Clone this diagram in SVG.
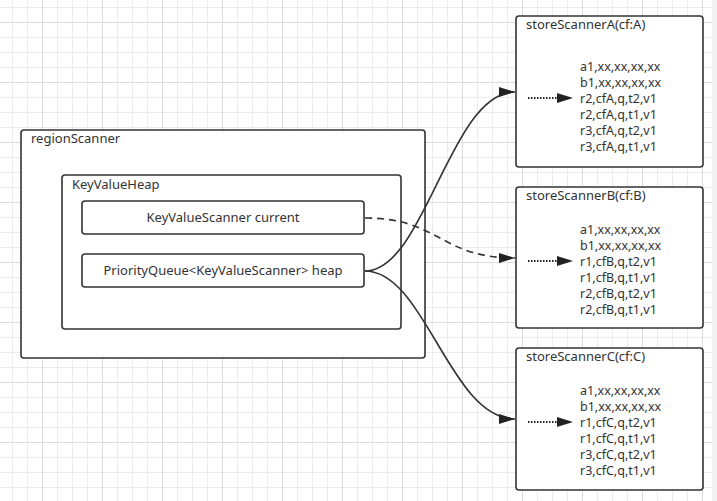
<svg xmlns="http://www.w3.org/2000/svg" width="717" height="501" viewBox="0 0 717 501">
<style>
.box{fill:#fff;stroke:#333;stroke-width:1.6}
.t{font-family:"Noto Sans","Liberation Sans",sans-serif;font-size:13px;fill:#333}
.s{font-size:12.5px}
.c{text-anchor:middle}
.con{fill:none;stroke:#333;stroke-width:1.6}
.dash{stroke-dasharray:7 5}
.dot{fill:none;stroke:#222;stroke-width:2;stroke-dasharray:1.5 1.5}
</style>
<defs>
<pattern id="minor" patternUnits="userSpaceOnUse" x="12" y="7" width="15" height="15">
<rect x="0" y="0" width="1" height="15" fill="#ececec"/>
<rect x="0" y="0" width="15" height="1" fill="#ececec"/>
</pattern>
<pattern id="major" patternUnits="userSpaceOnUse" x="42" y="22" width="60" height="60">
<rect x="0" y="0" width="1" height="60" fill="#dcdcdc"/>
<rect x="0" y="0" width="60" height="1" fill="#dcdcdc"/>
</pattern>
<marker id="arr" viewBox="0 0 16 10" refX="16" refY="5" markerWidth="16" markerHeight="10" markerUnits="userSpaceOnUse" orient="auto">
<path d="M0,0 L16,5 L0,10 Z" fill="#222"/>
</marker>
</defs>
<rect width="717" height="501" fill="#fff"/>
<rect width="717" height="501" fill="url(#minor)"/>
<rect width="717" height="501" fill="url(#major)"/>
<rect x="712" y="0" width="5" height="501" fill="#f2f2f2"/>

<g id="regionScanner">
<rect class="box" x="21" y="130" width="404" height="228" rx="3"/>
<text class="t" x="31" y="143">regionScanner</text>
</g>
<g id="KeyValueHeap">
<rect class="box" x="62" y="175" width="339" height="154" rx="3"/>
<text class="t" x="72" y="189">KeyValueHeap</text>
</g>
<g id="current">
<rect class="box" x="82" y="201" width="282" height="33" rx="3"/>
<text class="t c" x="223" y="222">KeyValueScanner current</text>
</g>
<g id="heap">
<rect class="box" x="82" y="254" width="282" height="33" rx="3"/>
<text class="t c" x="223" y="275">PriorityQueue&lt;KeyValueScanner&gt; heap</text>
</g>

<g id="storeScannerA">
<rect class="box" x="516" y="16" width="187" height="151" rx="3"/>
<text class="t" x="526" y="29">storeScannerA(cf:A)</text>
<line class="dot" x1="528" y1="98" x2="560" y2="98"/>
<path d="M557,93 L573,98 L557,103 Z" fill="#222"/>
<text class="t s" x="580" y="71">a1,xx,xx,xx,xx</text>
<text class="t s" x="580" y="87">b1,xx,xx,xx,xx</text>
<text class="t s" x="580" y="103">r2,cfA,q,t2,v1</text>
<text class="t s" x="580" y="119">r2,cfA,q,t1,v1</text>
<text class="t s" x="580" y="135">r3,cfA,q,t2,v1</text>
<text class="t s" x="580" y="151">r3,cfA,q,t1,v1</text>
</g>
<g id="storeScannerB">
<rect class="box" x="516" y="187" width="187" height="141" rx="3"/>
<text class="t" x="526" y="200">storeScannerB(cf:B)</text>
<line class="dot" x1="528" y1="261" x2="560" y2="261"/>
<path d="M557,256 L573,261 L557,266 Z" fill="#222"/>
<text class="t s" x="580" y="234">a1,xx,xx,xx,xx</text>
<text class="t s" x="580" y="250">b1,xx,xx,xx,xx</text>
<text class="t s" x="580" y="266">r1,cfB,q,t2,v1</text>
<text class="t s" x="580" y="282">r1,cfB,q,t1,v1</text>
<text class="t s" x="580" y="298">r2,cfB,q,t2,v1</text>
<text class="t s" x="580" y="314">r2,cfB,q,t1,v1</text>
</g>
<g id="storeScannerC">
<rect class="box" x="516" y="348" width="187" height="142" rx="3"/>
<text class="t" x="526" y="361">storeScannerC(cf:C)</text>
<line class="dot" x1="528" y1="422" x2="560" y2="422"/>
<path d="M557,417 L573,422 L557,427 Z" fill="#222"/>
<text class="t s" x="580" y="395">a1,xx,xx,xx,xx</text>
<text class="t s" x="580" y="411">b1,xx,xx,xx,xx</text>
<text class="t s" x="580" y="427">r1,cfC,q,t2,v1</text>
<text class="t s" x="580" y="443">r1,cfC,q,t1,v1</text>
<text class="t s" x="580" y="459">r3,cfC,q,t2,v1</text>
<text class="t s" x="580" y="475">r3,cfC,q,t1,v1</text>
</g>

<g id="connectors">
<path class="con" d="M365,271 C425,271 450,92 515,92" marker-end="url(#arr)"/>
<path class="con dash" d="M365,218 C440,218 440,258 515,258" marker-end="url(#arr)"/>
<path class="con" d="M365,271 C425,271 450,419 515,419" marker-end="url(#arr)"/>
</g>
</svg>
